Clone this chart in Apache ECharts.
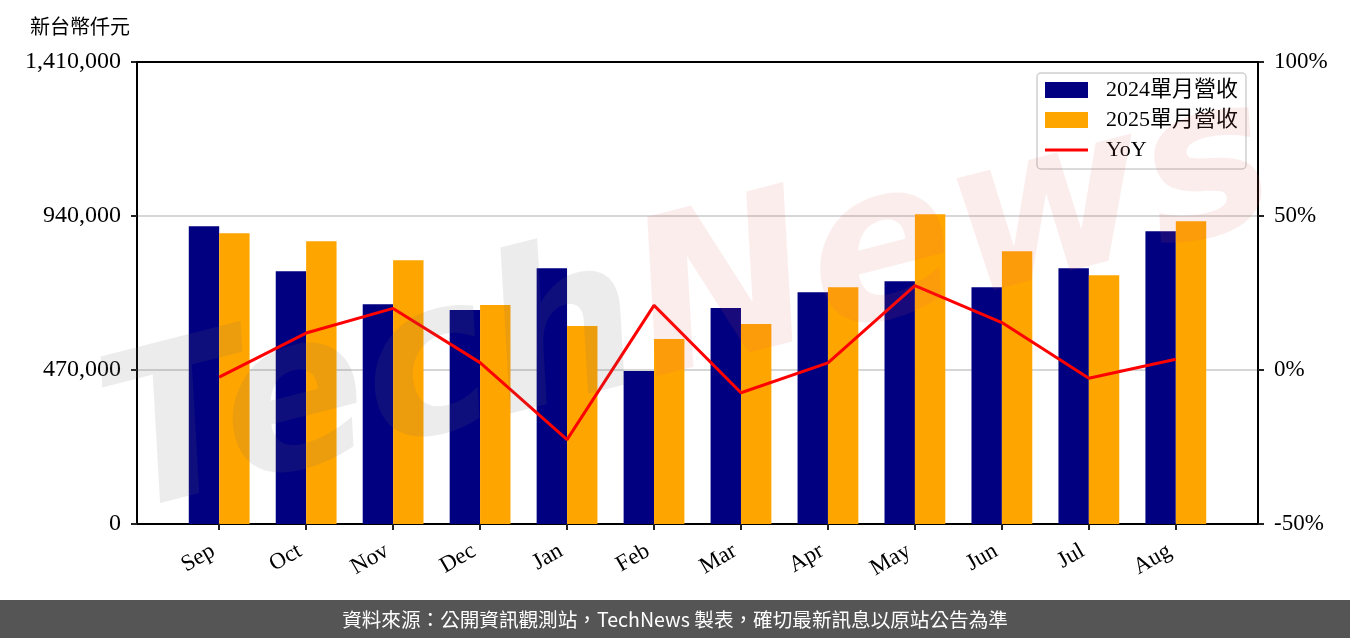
<!DOCTYPE html>
<html lang="zh-Hant-TW">
<head>
<meta charset="utf-8">
<script src="https://cdn.jsdelivr.net/npm/echarts@6/dist/echarts.min.js"></script>
<style>
html,body{margin:0;padding:0;background:#fff;}
#chart{width:1350px;height:638px;}
</style>
</head>
<body>
<div id="chart"></div>
<script>
const months = ['Sep','Oct','Nov','Dec','Jan','Feb','Mar','Apr','May','Jun','Jul','Aug'];
const rev2024 = [908600, 771600, 671000, 652800, 780700, 467000, 658900, 707600, 741100, 722800, 780700, 893400];
const rev2025 = [887300, 863000, 805100, 668000, 604000, 564400, 610100, 722800, 945200, 832500, 759400, 923900];
const yoy = [-2.3, 12.0, 20.0, 2.4, -22.6, 21.0, -7.4, 2.3, 27.4, 15.4, -2.7, 3.5];
const leftTicks = [0, 470000, 940000, 1410000];
const rightTicks = [-50, 0, 50, 100];
const seriesNames = ['2024單月營收', '2025單月營收', 'YoY'];
const unitLabel = '新台幣仟元';
const footer = '資料來源：公開資訊觀測站，TechNews 製表，確切最新訊息以原站公告為準';

const serif = "'Liberation Serif', 'Noto Sans CJK TC', serif";
const idx = months.map((m, i) => i);

const chart = echarts.init(document.getElementById('chart'), null, {renderer: 'canvas'});
chart.setOption({
  animation: false,
  backgroundColor: '#fff',
  grid: {left: 137, right: 92, top: 62, bottom: 114},
  legend: {
    orient: 'vertical',
    left: 1037, top: 73,
    padding: [6, 8, 8, 8],
    itemWidth: 43, itemHeight: 16, itemGap: 8,
    symbolKeepAspect: false,
    backgroundColor: '#fff',
    borderColor: '#d0d0d0', borderWidth: 1.5, borderRadius: 4,
    textStyle: {fontFamily: serif, fontSize: 22, color: '#000', lineHeight: 22, padding: [0, 0, 0, 13]},
    data: [
      {name: seriesNames[0], icon: 'rect'},
      {name: seriesNames[1], icon: 'rect'},
      {name: seriesNames[2], icon: 'path://M0,0L0.01,0L0.01,0.01ZM0,6.5H43V9.5H0ZM42.99,15.99L43,15.99L43,16Z'}
    ]
  },
  xAxis: {
    type: 'value',
    min: -0.945, max: 11.945,
    splitLine: {show: false},
    axisLine: {show: true, onZero: false, lineStyle: {color: '#000', width: 2}},
    axisTick: {show: true, customValues: idx, length: 6, lineStyle: {color: '#222', width: 2}},
    axisLabel: {
      customValues: idx,
      formatter: v => months[Math.round(v)],
      rotate: 30, margin: 22, padding: [0, 7, 0, 0],
      fontFamily: serif, fontSize: 23, color: '#000'
    }
  },
  yAxis: [
    {
      type: 'value', min: 0, max: 1410000, interval: 470000,
      axisLine: {show: true, onZero: false, lineStyle: {color: '#000', width: 2}},
      axisTick: {show: true, length: 6, lineStyle: {color: '#222', width: 2}},
      axisLabel: {formatter: v => v.toLocaleString('en-US'), fontFamily: serif, fontSize: 24, color: '#000', margin: 16},
      splitLine: {show: true, lineStyle: {color: '#d6d6d6', width: 2}}
    },
    {
      type: 'value', min: -50, max: 100, interval: 50,
      position: 'right',
      axisLine: {show: true, onZero: false, lineStyle: {color: '#000', width: 2}},
      axisTick: {show: true, length: 6, lineStyle: {color: '#222', width: 2}},
      axisLabel: {formatter: '{value}%', fontFamily: serif, fontSize: 23, color: '#000', margin: 16},
      splitLine: {show: false}
    }
  ],
  series: [
    {
      name: seriesNames[0], type: 'bar', barWidth: 30.4, barGap: '0%',
      itemStyle: {color: '#000080'},
      data: rev2024.map((v, i) => [i, v]), z: 2
    },
    {
      name: seriesNames[1], type: 'bar', barWidth: 30.4, barGap: '0%',
      itemStyle: {color: '#FFA500'},
      data: rev2025.map((v, i) => [i, v]), z: 2
    },
    {
      name: seriesNames[2], type: 'line', yAxisIndex: 1,
      symbol: 'none', lineStyle: {color: '#FF0000', width: 3},
      itemStyle: {color: '#FF0000'},
      data: yoy.map((v, i) => [i, v]), z: 3
    }
  ],
  graphic: [
    {
      type: 'text', left: 30, top: 16, z: 10,
      style: {text: unitLabel, font: "20px 'Noto Sans CJK TC'", fill: '#000'}
    },
    {
      type: 'line', z: 10, silent: true,
      shape: {x1: 136, y1: 62, x2: 1259, y2: 62},
      style: {stroke: '#000', lineWidth: 2}
    },
    {
      type: 'text', x: 690, y: 310, rotation: 0.25, z: 5, silent: true,
      style: {
        text: '{a|Tech}{b|News}',
        align: 'center', verticalAlign: 'middle',
        rich: {
          a: {font: "italic bold 215px 'DejaVu Sans'", fill: 'rgba(110,110,110,0.13)'},
          b: {font: "italic bold 215px 'DejaVu Sans'", fill: 'rgba(225,90,90,0.11)'}
        }
      }
    },
    {
      type: 'rect', z: 10,
      shape: {x: 0, y: 600, width: 1350, height: 38},
      style: {fill: '#555555'}
    },
    {
      type: 'text', x: 675, y: 620, z: 11,
      style: {text: footer, font: "19.6px 'Noto Sans CJK TC'", fill: '#fff', align: 'center', verticalAlign: 'middle'}
    }
  ]
});
</script>
</body>
</html>
